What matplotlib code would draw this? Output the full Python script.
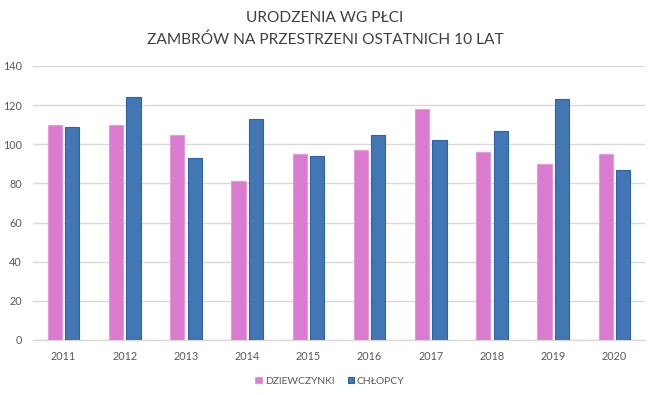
import matplotlib
matplotlib.use("Agg")
import matplotlib.pyplot as plt
import numpy as np

years = ["2011", "2012", "2013", "2014", "2015", "2016", "2017", "2018", "2019", "2020"]
dziewczynki = [110, 110, 105, 81, 95, 97, 118, 96, 90, 95]
chlopcy = [109, 124, 93, 113, 94, 105, 102, 107, 123, 87]
series_names = ["DZIEWCZYNKI", "CHŁOPCY"]
yticks = [0, 20, 40, 60, 80, 100, 120, 140]
title_lines = ["URODZENIA WG PŁCI", "ZAMBRÓW NA PRZESTRZENI OSTATNICH 10 LAT"]

plt.rcParams['font.family'] = ['Lato', 'DejaVu Sans']

fig = plt.figure(figsize=(6.5, 3.95), dpi=100)
ax = fig.add_axes([33/650, 1-340/395, 612/650, 274/395])

x = np.arange(len(years))
w = 0.23
off = 0.142
ax.bar(x - off, dziewczynki, width=w, color="#DA7BD0", edgecolor="#E39BDB", linewidth=0.8,
       label=series_names[0], zorder=3)
ax.bar(x + off, chlopcy, width=w, color="#4276B4", edgecolor="#2C64A8", linewidth=0.8,
       label=series_names[1], zorder=3)

ax.set_xlim(-0.5, len(years) - 0.5)
ax.set_ylim(0, 140)
ax.set_yticks(yticks)
ax.set_xticks(x)
ax.set_xticklabels(years)
ax.yaxis.grid(True, color="#D9D9D9", linewidth=1, zorder=0)
for s in ["top", "right", "left"]:
    ax.spines[s].set_visible(False)
ax.spines["bottom"].set_color("#D9D9D9")
ax.spines["bottom"].set_linewidth(1)
ax.tick_params(axis="both", length=0, labelsize=7.8, colors="#595959")
ax.tick_params(axis="x", pad=8)
ax.tick_params(axis="y", pad=8)

fig.text(0.5, 1-22/395, title_lines[0], ha="center", va="baseline", fontsize=11.2,
         color="#404040")
fig.text(0.5, 1-44/395, title_lines[1], ha="center", va="baseline", fontsize=11.2,
         color="#404040")

fig.legend(loc="center", bbox_to_anchor=(330/650, 1-381/395), ncol=2, frameon=False,
           fontsize=7.4, handlelength=0.6, handleheight=0.6, handletextpad=0.3,
           columnspacing=1.3, labelcolor="#595959")

fig.savefig("out.png", dpi=100, facecolor="white")
